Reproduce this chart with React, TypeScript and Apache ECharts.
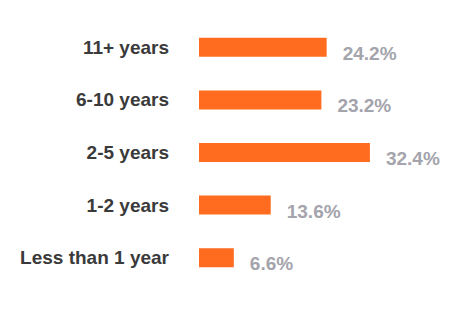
import React, { useEffect, useRef } from "react";
import * as echarts from "echarts";

const categories = ["11+ years", "6-10 years", "2-5 years", "1-2 years", "Less than 1 year"];
const values = [24.2, 23.2, 32.4, 13.6, 6.6];

export default function App() {
  const ref = useRef<HTMLDivElement>(null);
  useEffect(() => {
    if (!ref.current) return;
    const chart = echarts.init(ref.current, null, { renderer: "svg" });
    chart.setOption({
      animation: false,
      backgroundColor: "#ffffff",
      grid: { left: 199, right: 41, top: 21, bottom: 34, containLabel: false },
      xAxis: {
        type: "value",
        min: 0,
        max: 40,
        show: false,
      },
      yAxis: {
        type: "category",
        data: categories,
        inverse: true,
        axisLine: { show: false },
        axisTick: { show: false },
        splitLine: { show: false },
        axisLabel: {
          margin: 30,
          color: "#3a3a3a",
          fontFamily: "Liberation Sans, Arial, sans-serif",
          fontWeight: "bold",
          fontSize: 19,
        },
      },
      series: [
        {
          type: "bar",
          data: values,
          barWidth: 19,
          itemStyle: { color: "#ff6c1f" },
          label: {
            show: true,
            position: "right",
            distance: 16,
            offset: [0, 6],
            formatter: (p: any) => p.value.toFixed(1) + "%",
            color: "#a4a4ac",
            fontFamily: "Liberation Sans, Arial, sans-serif",
            fontWeight: "bold",
            fontSize: 19,
          },
        },
      ],
    });
    return () => chart.dispose();
  }, []);
  return (
    <div
      ref={ref}
      style={{ position: "fixed", left: 0, top: 0, width: 451, height: 318 }}
    />
  );
}
